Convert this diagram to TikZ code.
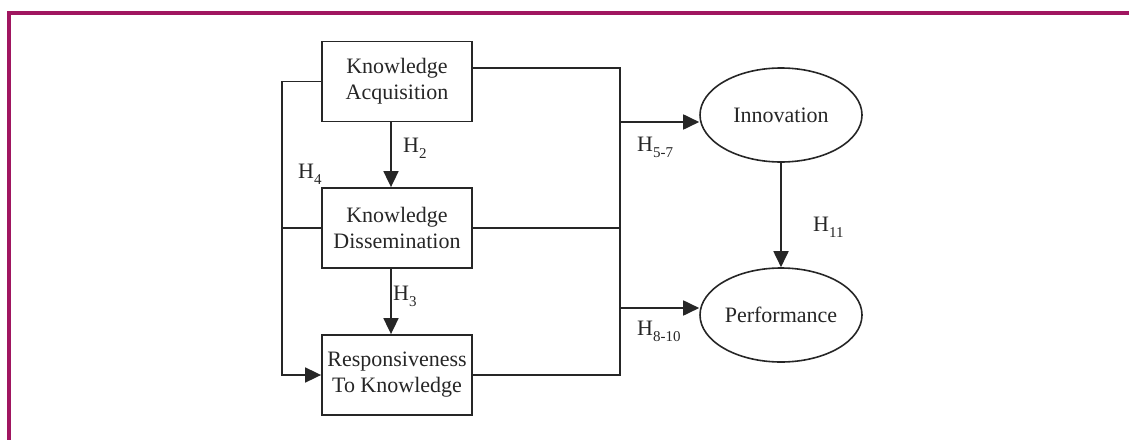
\documentclass[tikz,border=0pt]{standalone}
\usepackage{fontspec}
\setmainfont{Liberation Serif}
\usepackage{tikz}
\usetikzlibrary{arrows.meta,shapes.geometric,positioning}
\definecolor{framecol}{RGB}{160,22,96}
\newcommand{\hyp}[1]{H\raisebox{-6pt}{\fontsize{15}{15}\selectfont #1}}

\begin{document}
\begin{tikzpicture}[
      x=1pt, y=-1pt,
      font={\fontsize{22}{26}\selectfont},
      every node/.style={text=black!85},
      stage/.style={draw=black!85,line width=1.8pt,minimum width=150pt,minimum height=80pt,align=center,inner sep=0},
      outcome/.style={ellipse,draw=black!85,line width=1.6pt,minimum width=162pt,minimum height=94pt,inner sep=0},
      link/.style={draw=black!85,line width=1.8pt},
      arr/.style={link,-{Triangle[length=16pt,width=15pt]}},
      hlab/.style={inner sep=0,anchor=base west},
      frame/.style={draw=framecol,line width=4.3pt}
  ]
  \useasboundingbox (0,0) rectangle (1129,439);
  \draw[frame] (9,445) -- (9,13) -- (1135,13);

  \node[stage] (acq) at (397,81.5) {Knowledge\\Acquisition};
  \node[stage] (dis) at (397,228) {Knowledge\\Dissemination};
  \node[stage] (resp) at (397,375) {Responsiveness\\To Knowledge};
  \node[outcome] (inno) at (781,115) {Innovation};
  \node[outcome] (perf) at (781,315) {Performance};

  \coordinate (lbus) at (282,0);
  \coordinate (rbus) at (620,0);
  \coordinate (acqout) at ([yshift=13.5pt]acq.east);
  \coordinate (toinno) at (620,122);
  \coordinate (toperf) at (620,308);

  \draw[arr] (acq.south -| 391,0) -- (dis.north -| 391,0);
  \draw[arr] (dis.south -| 391,0) -- (resp.north -| 391,0);
  \draw[arr] (acq.west) -| (lbus |- resp.west) -- (resp.west);
  \draw[link] (dis.west) -- (lbus |- dis.west);
  \draw[link] (acqout) -| (rbus |- resp.east) -- (resp.east);
  \draw[link] (dis.east) -- (rbus |- dis.east);
  \draw[arr] (toinno) -- (toinno -| inno.west);
  \draw[arr] (toperf) -- (toperf -| perf.west);
  \draw[arr] (inno.south) -- (perf.north);

  \node[hlab] (h2) at (403,152) {\hyp{2}};
  \node[hlab] (h3) at (393,300) {\hyp{3}};
  \node[hlab] (h4) at (298,178) {\hyp{4}};
  \node[hlab] (h57) at (637,151) {\hyp{5-7}};
  \node[hlab] (h810) at (637,335) {\hyp{8-10}};
  \node[hlab] (h11) at (813,231) {\hyp{11}};

\end{tikzpicture}
\end{document}
